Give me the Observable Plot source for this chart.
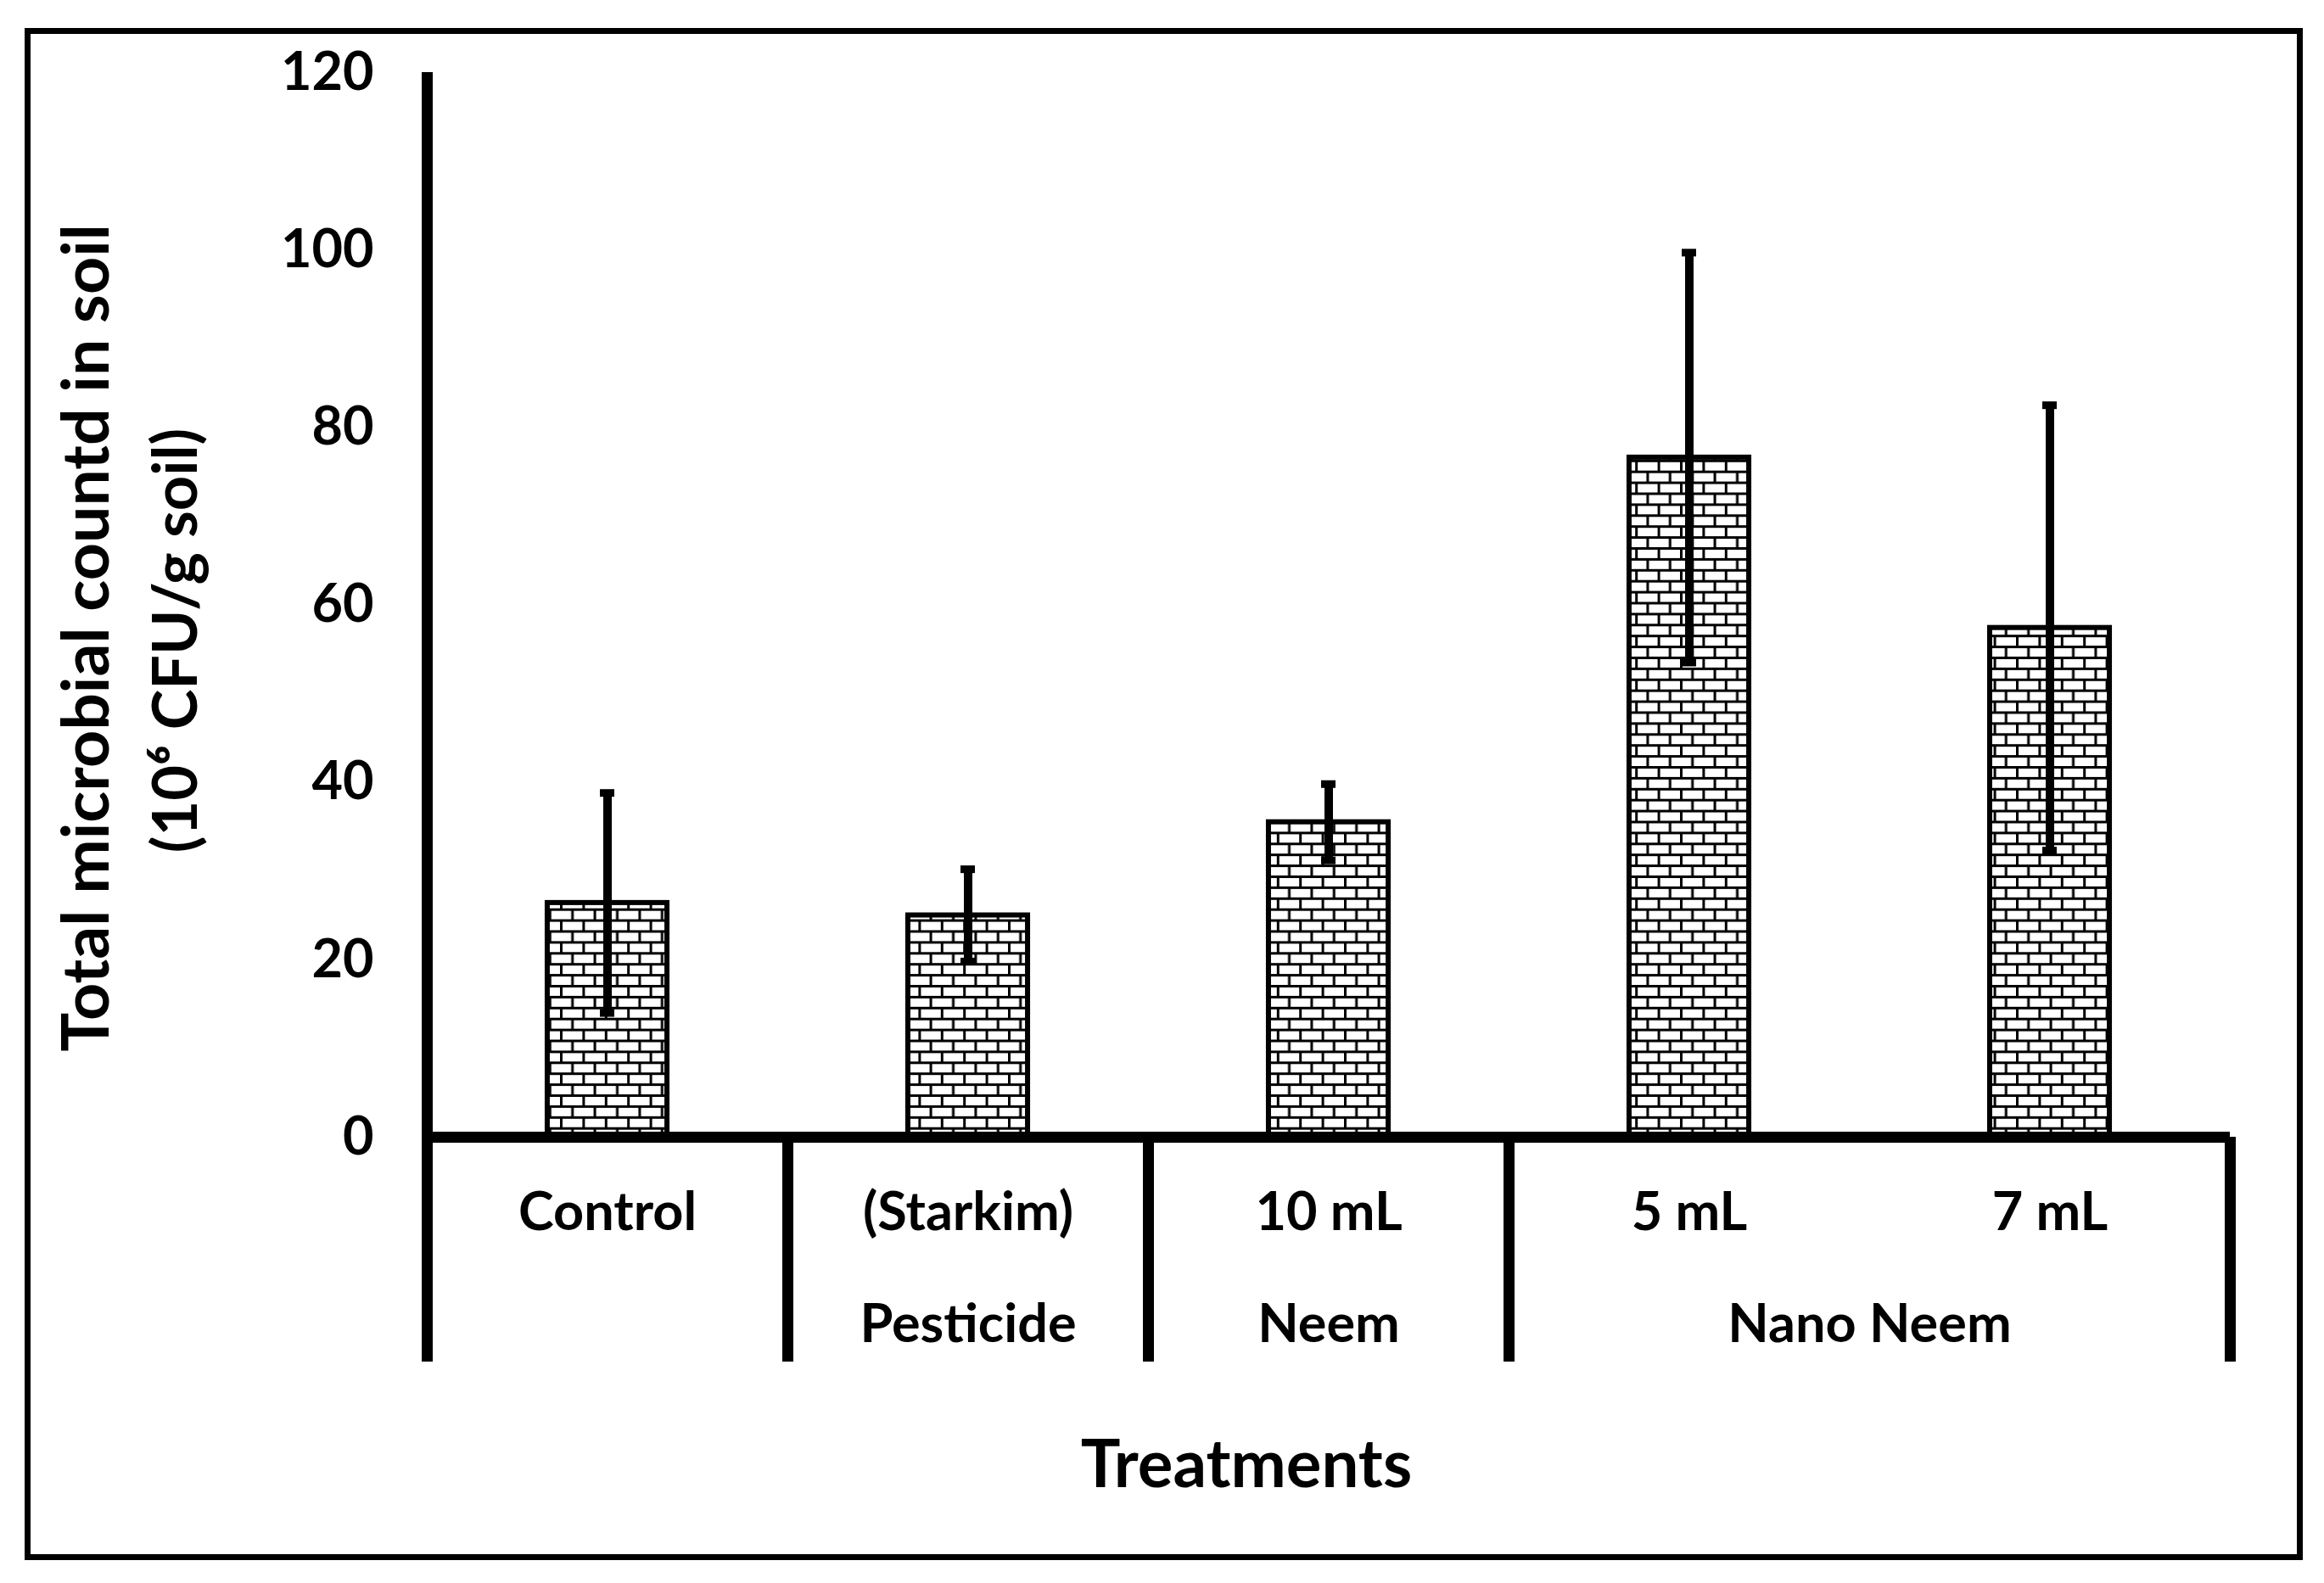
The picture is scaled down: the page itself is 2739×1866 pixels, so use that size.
<!DOCTYPE html>
<html>
<head>
<meta charset="utf-8">
<script src="https://cdn.jsdelivr.net/npm/d3@7"></script>
<script src="https://cdn.jsdelivr.net/npm/@observablehq/plot@0.6"></script>
<style>
  html, body { margin: 0; padding: 0; background: #fff; }
  #wrap { position: relative; width: 2739px; height: 1866px; }
  #border { position: absolute; left: 29px; top: 33px; width: 2671px; height: 1792px; border: 7px solid #000; pointer-events: none; }
  svg { display: block; }
</style>
</head>
<body>
<div id="wrap"><div id="border"></div></div>
<script>
// ---- data ----
const treatments = ["Control", "(Starkim)", "10 mL", "5 mL", "7 mL"];
const means = [26.4, 25.0, 35.5, 76.6, 57.4];
const errors = [12.4, 5.2, 4.3, 23.1, 25.1];
const groupLabels = ["", "Pesticide", "Neem", "Nano Neem"];
const groupSizes = [1, 1, 1, 2];
const yTicks = [0, 20, 40, 60, 80, 100, 120];
const yTitle1 = "Total microbial countd in soil";
const yTitle2 = "(10\u2076 CFU/g soil)";
const xTitle = "Treatments";

// ---- derived tables ----
const rows = treatments.map((t, i) => ({t, i, mean: means[i], err: errors[i]}));
const boundaries = [0];
const groups = [];
groupSizes.forEach((s, k) => {
  const start = boundaries[boundaries.length - 1];
  groups.push({label: groupLabels[k], mid: start + s / 2});
  boundaries.push(start + s);
});

const FONT = "Lato, 'Open Sans', sans-serif";
const barHalf = 0.166;   // half bar width, in category units
const capHalf = 0.02;    // half cap width
const tableDepth = -25.35;  // divider depth below baseline (value units)

const chart = Plot.plot({
  width: 2739,
  height: 1866,
  marginLeft: 503,
  marginRight: 111,
  marginTop: 85,
  marginBottom: 526,
  style: {fontFamily: FONT, fontWeight: "bold", color: "black", background: "white", overflow: "visible"},
  x: {type: "linear", domain: [0, treatments.length], axis: null},
  y: {domain: [0, 120], axis: null},
  marks: [
    Plot.axisY(yTicks, {tickSize: 0, tickPadding: 63, fontSize: 63, fontWeight: "bold", label: null, fill: "black"}),
    Plot.rectY(rows, {
      x1: d => d.i + 0.5 - barHalf, x2: d => d.i + 0.5 + barHalf,
      y: "mean", fill: "url(#brick)", stroke: "black", strokeWidth: 6
    }),
    Plot.ruleX(rows, {x: d => d.i + 0.5, y1: d => d.mean - d.err, y2: d => d.mean + d.err, stroke: "black", strokeWidth: 10}),
    Plot.ruleY(rows, {y: d => d.mean + d.err, x1: d => d.i + 0.5 - capHalf, x2: d => d.i + 0.5 + capHalf, stroke: "black", strokeWidth: 9}),
    Plot.ruleY(rows, {y: d => d.mean - d.err, x1: d => d.i + 0.5 - capHalf, x2: d => d.i + 0.5 + capHalf, stroke: "black", strokeWidth: 9}),
    Plot.ruleX([0], {y1: 0, y2: 120, stroke: "black", strokeWidth: 13}),
    Plot.ruleX(boundaries, {y1: 0, y2: tableDepth, stroke: "black", strokeWidth: 13}),
    Plot.ruleY([0], {stroke: "black", strokeWidth: 13}),
    Plot.text(rows, {x: d => d.i + 0.5, y: -8.5, text: "t", fontSize: 63, fontWeight: "bold", fill: "black"}),
    Plot.text(groups, {x: "mid", y: -21.2, text: "label", fontSize: 63, fontWeight: "bold", fill: "black"}),
    Plot.text([xTitle], {text: d => d, frameAnchor: "bottom", textAnchor: "middle", lineAnchor: "middle", dx: -97, dy: 388, fontSize: 78, fontWeight: "bold", fill: "black"}),
    Plot.text([yTitle1], {text: d => d, frameAnchor: "left", textAnchor: "middle", lineAnchor: "middle", rotate: -90, dx: -400, dy: 39, fontSize: 77, fontWeight: "bold", fill: "black"}),
    Plot.text([yTitle2], {text: d => d, frameAnchor: "left", textAnchor: "middle", lineAnchor: "middle", rotate: -90, dx: -295, dy: 42, fontSize: 72, fontWeight: "bold", fill: "black"})
  ]
});

// brick hatch pattern
const svg = d3.select(chart);
const pat = svg.insert("defs", ":first-child")
  .append("pattern")
  .attr("id", "brick")
  .attr("patternUnits", "userSpaceOnUse")
  .attr("width", 26.4)
  .attr("height", 25.8);
pat.append("rect").attr("width", 26.4).attr("height", 25.8).attr("fill", "white");
pat.append("rect").attr("x", 0).attr("y", 0).attr("width", 26.4).attr("height", 3).attr("fill", "black");
pat.append("rect").attr("x", 0).attr("y", 12.9).attr("width", 26.4).attr("height", 3).attr("fill", "black");
pat.append("rect").attr("x", 0).attr("y", 0).attr("width", 3).attr("height", 12.9).attr("fill", "black");
pat.append("rect").attr("x", 13.2).attr("y", 12.9).attr("width", 3).attr("height", 12.9).attr("fill", "black");

document.getElementById("wrap").prepend(chart);
</script>
</body>
</html>
